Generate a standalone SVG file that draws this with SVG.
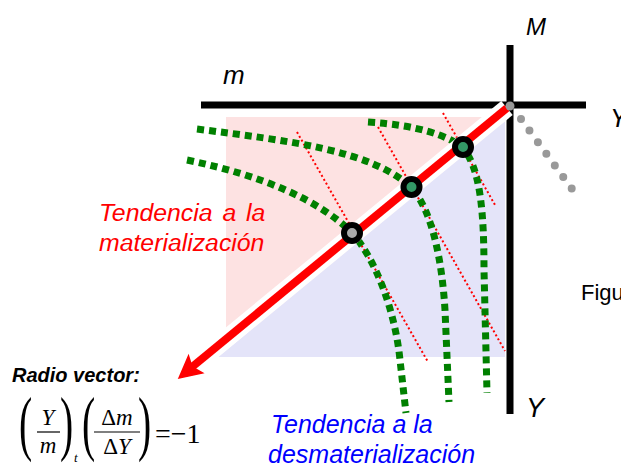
<svg xmlns="http://www.w3.org/2000/svg" width="621" height="475" viewBox="0 0 621 475">
  <style>
    .lbl { font-family: "Liberation Sans", Arial, sans-serif; font-style: italic; }
    .math { font-family: "Liberation Serif", "Times New Roman", serif; }
    .gcurve { fill: none; stroke: #008000; stroke-width: 7; stroke-dasharray: 7 5; }
    .rdot { fill: none; stroke: #ff0000; stroke-width: 2; stroke-dasharray: 2 2.5; }
    .axis { stroke: #000; stroke-width: 7; }
    .pt { stroke: #000; stroke-width: 6; }
  </style>
  <rect width="621" height="475" fill="#fff"/>

  <g id="regions">
    <rect x="226" y="117" width="276" height="215" fill="#fde2e2"/>
    <polygon points="505,121 505,357 218,357" fill="#e4e4f9"/>
  </g>

  <g id="axes">
    <line class="axis" x1="201" y1="105" x2="586" y2="105"/>
    <line class="axis" x1="510" y1="45" x2="510" y2="414"/>
  </g>

  <g id="connectors">
    <line x1="521" y1="119" x2="572" y2="189" stroke="#999" stroke-width="8" stroke-linecap="round" stroke-dasharray="0 14.35"/>
    <line class="rdot" x1="297" y1="132" x2="428" y2="362"/>
    <line class="rdot" x1="378" y1="127" x2="505" y2="351"/>
    <line class="rdot" x1="443" y1="113" x2="495" y2="205"/>
    <path class="gcurve" d="M368,122 C415,125 448,135 463,148 C480,168 484,210 484,270 L487,393"/>
    <path class="gcurve" d="M197,129 C290,141 370,150 411,187 C432,210 442,260 445,310 L449,402"/>
    <path class="gcurve" d="M187,160 C260,175 320,200 352,233 C375,258 395,310 400,360 L406,413"/>
    <line x1="507" y1="108" x2="192" y2="367" stroke="#fff" stroke-width="18"/>
    <line x1="507" y1="108" x2="192" y2="367" stroke="#ff0000" stroke-width="8"/>
    <polygon points="179,378 188.5,356 192,367 202.5,373" fill="#ff0000" stroke="#ff0000" stroke-width="1.5" stroke-linejoin="miter"/>
    <circle cx="510" cy="106" r="4.5" fill="#999"/>
  </g>

  <g id="point1"><circle class="pt" cx="352" cy="233" r="8" fill="#aaaaaa"/></g>
  <g id="point2"><circle class="pt" cx="411.5" cy="187" r="8" fill="#339966"/></g>
  <g id="point3"><circle class="pt" cx="463" cy="147" r="8" fill="#339966"/></g>

  <g id="labels">
    <text class="lbl" x="223" y="84" font-size="26">m</text>
    <text class="lbl" x="526" y="35" font-size="24">M</text>
    <text class="lbl" x="610" y="127" font-size="26">Y</text>
    <text class="lbl" x="526" y="417" font-size="27">Y</text>
    <text x="581" y="300" font-family="Liberation Sans, Arial, sans-serif" font-size="22">Figu</text>
    <text class="lbl" fill="#ff0000" font-size="24.8"><tspan x="99" y="221" word-spacing="3">Tendencia a la</tspan><tspan x="99" y="251">materialización</tspan></text>
    <text class="lbl" fill="#0000ff" font-size="25"><tspan x="271" y="433">Tendencia a la</tspan><tspan x="268" y="463">desmaterialización</tspan></text>
    <text class="lbl" x="12" y="382" font-size="20" font-weight="bold">Radio vector:</text>
  </g>

  <g id="equation" class="math">
    <text transform="translate(19,447) scale(0.55,1)" font-size="72">(</text>
    <text x="48" y="425" font-size="23" font-style="italic" text-anchor="middle">Y</text>
    <line x1="37" y1="432" x2="60" y2="432" stroke="#000" stroke-width="1.2"/>
    <text x="48" y="453" font-size="23" font-style="italic" text-anchor="middle">m</text>
    <text transform="translate(60,447) scale(0.55,1)" font-size="72">)</text>
    <text x="74" y="462" font-size="13" font-style="italic">t</text>
    <text transform="translate(82,447) scale(0.55,1)" font-size="72">(</text>
    <text x="117" y="425" font-size="23" text-anchor="middle">Δ<tspan font-style="italic">m</tspan></text>
    <line x1="94" y1="432" x2="140" y2="432" stroke="#000" stroke-width="1.2"/>
    <text x="117" y="454" font-size="23" text-anchor="middle">Δ<tspan font-style="italic">Y</tspan></text>
    <text transform="translate(138,447) scale(0.55,1)" font-size="72">)</text>
    <text x="155" y="443" font-size="28">=−1</text>
  </g>
</svg>
